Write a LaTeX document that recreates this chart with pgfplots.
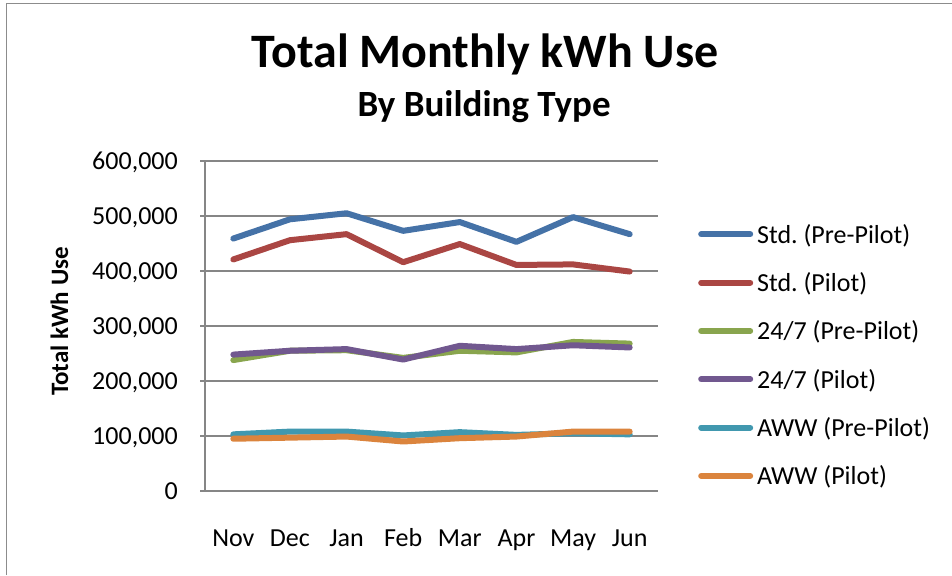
\documentclass[border=0pt]{standalone}
\usepackage{fontspec}
\setmainfont{Carlito}
\usepackage{pgfplots}
\usepackage{pgfplotstable}
\pgfplotsset{compat=1.18}
\frenchspacing
\definecolor{cBlue}{HTML}{4572A7}
\definecolor{cRed}{HTML}{AA4643}
\definecolor{cGreen}{HTML}{89A54E}
\definecolor{cPurple}{HTML}{71588F}
\definecolor{cTeal}{HTML}{4198AF}
\definecolor{cOrange}{HTML}{DB843D}
\definecolor{gridGray}{HTML}{868686}
\definecolor{borderGray}{HTML}{8C8C8C}
\pgfplotstableread{
x  stdpre stdpil tfpre tfpil awwpre awwpil
0  459000 421000 238000 248000 103000 95000
1  494000 456000 255000 255000 108000 97000
2  505000 467000 256000 258000 108000 99000
3  473000 416000 242000 239000 101000 90000
4  489000 449000 255000 264000 107000 96000
5  453000 411000 252000 258000 102000 99000
6  498000 412000 271000 265000 105000 108000
7  467000 399000 268000 261000 103000 108000
}\kwh
\begin{document}
\frenchspacing
\begin{tikzpicture}[x=1pt,y=1pt]
\useasboundingbox (0,0) rectangle (952,575);
\draw[line width=1.3pt, color=borderGray] (6.5,0) -- (6.5,571.5) -- (952,571.5);
\node[anchor=base, inner sep=0pt, font=\fontsize{48}{58}\selectfont\bfseries] at (485,507) {Total Monthly kWh Use};
\node[anchor=base, inner sep=0pt, font=\fontsize{37}{44}\selectfont\bfseries] at (484,458.3) {By Building Type};
\node[anchor=base, rotate=90, inner sep=0pt, font=\fontsize{25}{30}\selectfont\bfseries] at (68,253.5) {Total kWh Use};
\begin{axis}[
  at={(205pt,84pt)}, anchor=south west,
  scale only axis, width=453pt, height=330pt,
  xmin=-0.5, xmax=7.5, ymin=0, ymax=600000,
  xtick={0,...,7},
  xticklabels={Nov,Dec,Jan,Feb,Mar,Apr,May,Jun},
  ytick={0,100000,200000,300000,400000,500000,600000},
  scaled y ticks=false,
  /pgf/number format/.cd, fixed, 1000 sep={,}, assume math mode=true,
  /pgfplots/.cd,
  axis x line*=bottom, axis y line*=left,
  axis line style={draw=gridGray, line width=1.3pt},
  ymajorgrids, major grid style={draw=gridGray, line width=1.3pt},
  xtick style={draw=none},
  ytick style={draw=gridGray, line width=1.3pt},
  tick align=outside, major tick length=5pt,
  tick label style={font=\fontsize{26}{31}\selectfont, text=black},
  yticklabel style={anchor=base east, inner sep=0pt, xshift=-22pt, yshift=-8.5pt},
  xticklabel style={anchor=base, inner sep=0pt, yshift=-50pt},
  every axis plot/.append style={line width=6pt, line cap=round, line join=round},
  legend cell align=left,
  legend style={at={(1.0883,0.809)}, anchor=north west, draw=none, fill=none,
    inner sep=0pt, row sep=23.3pt, font=\fontsize{26}{31}\selectfont\frenchspacing,
    nodes={inner sep=0pt, text height=19pt, text depth=6pt}},
  legend image code/.code={\draw[#1, line width=6pt, line cap=round] (3pt,2.4pt) -- (52pt,2.4pt); \path[draw=none] (55pt,0pt) -- (59pt,0pt);},
]
\addplot[cBlue] table[x=x,y=stdpre] {\kwh};
\addlegendentry{Std.\ (Pre-Pilot)}
\addplot[cRed] table[x=x,y=stdpil] {\kwh};
\addlegendentry{Std.\ (Pilot)}
\addplot[cGreen] table[x=x,y=tfpre] {\kwh};
\addlegendentry{24/7 (Pre-Pilot)}
\addplot[cPurple] table[x=x,y=tfpil] {\kwh};
\addlegendentry{24/7 (Pilot)}
\addplot[cTeal] table[x=x,y=awwpre] {\kwh};
\addlegendentry{AWW (Pre-Pilot)}
\addplot[cOrange] table[x=x,y=awwpil] {\kwh};
\addlegendentry{AWW (Pilot)}
\end{axis}
\end{tikzpicture}
\end{document}
